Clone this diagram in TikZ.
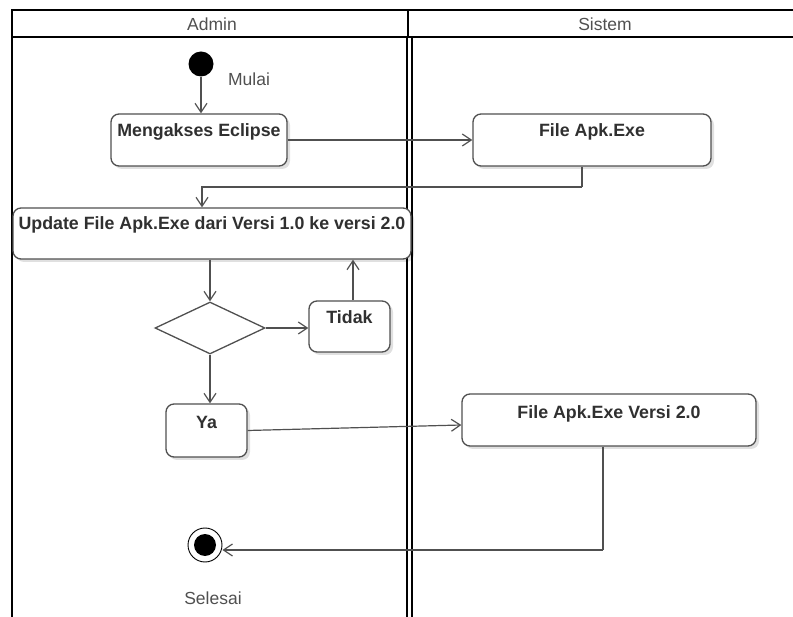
\documentclass[tikz,border=0pt]{standalone}
\usepackage{fontspec}
\setmainfont{Liberation Sans}
\usetikzlibrary{arrows.meta,shapes.geometric,shadows}
\definecolor{ink}{HTML}{303030}
\definecolor{edge}{HTML}{505050}
\definecolor{caption}{HTML}{505050}

\begin{document}
\begin{tikzpicture}[x=1pt,y=-1pt,
  act/.style={draw=edge, fill=white, line width=1.3pt, rounded corners=8pt,
    inner sep=0pt, font=\fontsize{17.8}{20}\selectfont\bfseries, text=ink,
    text height=22.5pt, text depth=29.5pt,
    drop shadow={shadow xshift=3pt, shadow yshift=-3pt, opacity=0.12, fill=black}},
  flow/.style={draw=edge, line width=1.2pt, -{Straight Barb[length=9pt,width=12pt,line width=1.2pt]}},
  plain/.style={draw=edge, line width=1.2pt},
  lane/.style={line width=2pt, draw=black},
  title/.style={font=\fontsize{17.5}{20}\selectfont, text=caption, inner sep=0pt}]

\useasboundingbox (0,0) rectangle (793,617);

% swimlane frame
\draw[lane] (12,617) -- (12,10) -- (793,10);
\draw[lane] (12,37) -- (793,37);
\draw[lane] (408,10) -- (408,37);
\draw[lane] (407,37) -- (407,617);
\draw[lane] (411.5,37) -- (411.5,617);

\node[title] (hadmin) at (212,24) {Admin};
\node[title] (hsistem) at (605,24) {Sistem};

% start and end
\node[circle, fill=black, minimum size=25pt, inner sep=0pt] (start) at (201,64) {};
\node[title] (mulai) at (249,79) {Mulai};

\node[circle, draw=black, line width=0.9pt, fill=white, minimum size=34pt, inner sep=0pt,
  path picture={\fill[black] (path picture bounding box.center) circle (11pt);}] (end) at (205,545) {};
\node[title] (selesai) at (213,598) {Selesai};

% activities
\node[act, minimum width=176pt] (akses) at (199,140) {Mengakses Eclipse};
\node[act, minimum width=238pt] (apk) at (592,140) {File Apk.Exe};
\node[act, minimum width=398pt, text height=21.5pt] (update) at (212,233.5) {Update File Apk.Exe dari Versi 1.0 ke versi 2.0};
\node[diamond, draw=edge, line width=1.3pt, fill=white, minimum width=110pt, minimum height=52pt, inner sep=0pt] (dia) at (210,328) {};
\node[act, minimum width=81pt, text height=22.5pt, text depth=28.5pt] (tidak) at (349.5,326.5) {Tidak};
\node[act, minimum width=81pt, text height=24.5pt, text depth=28.5pt] (ya) at (206.5,430.5) {Ya};
\node[act, minimum width=294pt, text height=24.5pt, text depth=27.5pt] (v2) at (609,420) {File Apk.Exe Versi 2.0};

% bend points
\coordinate (k1) at (582,187);
\coordinate (k2) at (603,550);

% control flow
\draw[flow] (start.south) -- (start.south |- akses.north);
\draw[flow] (akses.east) -- (akses.east -| apk.west);
\draw[plain] (apk.south -| k1) -- (k1);
\draw[flow] (k1) -| ([xshift=-10pt]update.north);
\draw[flow] (update.south -| dia.north) -- (dia.north);
\draw[flow] (dia.east) -- (dia.east -| tidak.west);
\draw[flow] ([xshift=3.5pt]tidak.north) -- ([xshift=3.5pt]tidak.north |- update.south);
\draw[flow] (dia.south) -- (dia.south |- ya.north);
\draw[flow] (ya.east) -- ([yshift=-5pt]v2.west);
\draw[plain] (v2.south -| k2) -- (k2);
\draw[flow] (k2) -- (k2 -| end.east);
\end{tikzpicture}
\end{document}
